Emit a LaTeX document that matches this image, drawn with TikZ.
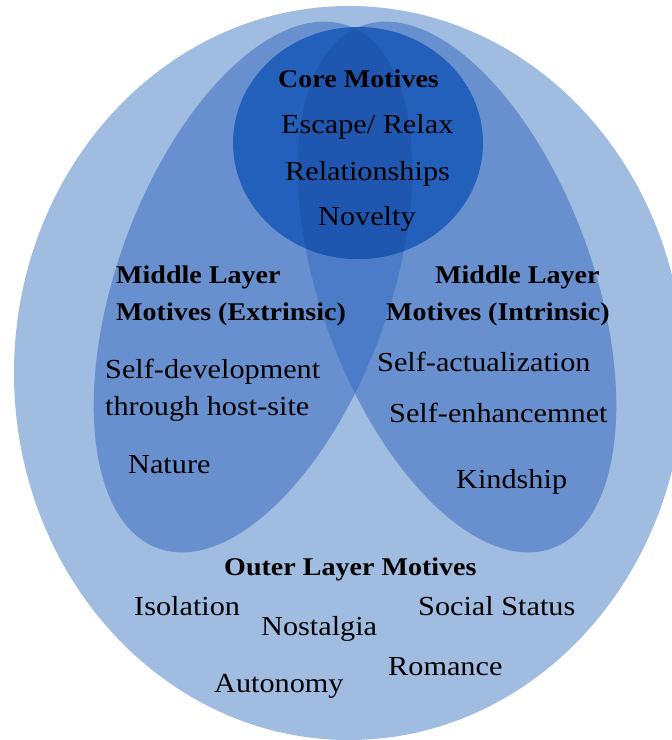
\documentclass[tikz,border=0pt]{standalone}
\usepackage{fontspec}
\setmainfont{Liberation Serif}[FakeStretch=1.1]
\begin{document}
\begin{tikzpicture}[x=1pt,y=-1pt,
  txt/.style={inner sep=0pt,anchor=base west,text=black,font=\fontsize{27.5}{30}\selectfont},
  head/.style={inner sep=0pt,anchor=base west,text=black,font=\fontsize{25.5}{28}\selectfont\bfseries}]
\definecolor{outerC}{RGB}{160,188,225}
\definecolor{midC}{RGB}{104,144,206}
\definecolor{lensC}{RGB}{76,124,199}
\definecolor{coreC}{RGB}{35,96,187}
\definecolor{coreLensC}{RGB}{30,86,176}
% layer outlines
\def\outerE{(349,373) circle [x radius=335, y radius=367]}
\def\leftE{(253,287) circle [x radius=136, y radius=278, rotate=-20]}
\def\rightE{(457,287) circle [x radius=136, y radius=278, rotate=20]}
\def\coreE{(358,143) circle [x radius=125, y radius=116]}
\clip (0,0) rectangle (672,740);
\fill[white] (0,0) rectangle (672,740);
% outer layer
\fill[outerC] \outerE;
% middle layers
\fill[midC] \leftE;
\fill[midC] \rightE;
\begin{scope}
  \clip \leftE;
  \fill[lensC] \rightE;
\end{scope}
% core
\fill[coreC] \coreE;
\begin{scope}
  \clip \coreE;
  \clip \leftE;
  \fill[coreLensC] \rightE;
\end{scope}
% core texts
\node[head] (coreT) at (278,87) {Core Motives};
\node[txt] (c1) at (281,133) {Escape/ Relax};
\node[txt] (c2) at (285,180) {Relationships};
\node[txt] (c3) at (318,225) {Novelty};
% extrinsic layer
\node[head] (exT1) at (116,283) {Middle Layer};
\node[head] (exT2) at (116,320) {Motives (Extrinsic)};
\node[txt] (e1) at (105,378) {Self-development};
\node[txt] (e2) at (105,415) {through host-site};
\node[txt] (e3) at (128,473) {Nature};
% intrinsic layer
\node[head] (inT1) at (435,283) {Middle Layer};
\node[head] (inT2) at (386,320) {Motives (Intrinsic)};
\node[txt] (i1) at (377,371) {Self-actualization};
\node[txt] (i2) at (389,422) {Self-enhancemnet};
\node[txt] (i3) at (456,488) {Kindship};
% outer layer
\node[head] (outT) at (224,575) {Outer Layer Motives};
\node[txt] (o1) at (134,615) {Isolation};
\node[txt] (o2) at (261,635) {Nostalgia};
\node[txt] (o3) at (418,615) {Social Status};
\node[txt] (o4) at (388,675) {Romance};
\node[txt] (o5) at (214,692) {Autonomy};
\end{tikzpicture}
\end{document}
